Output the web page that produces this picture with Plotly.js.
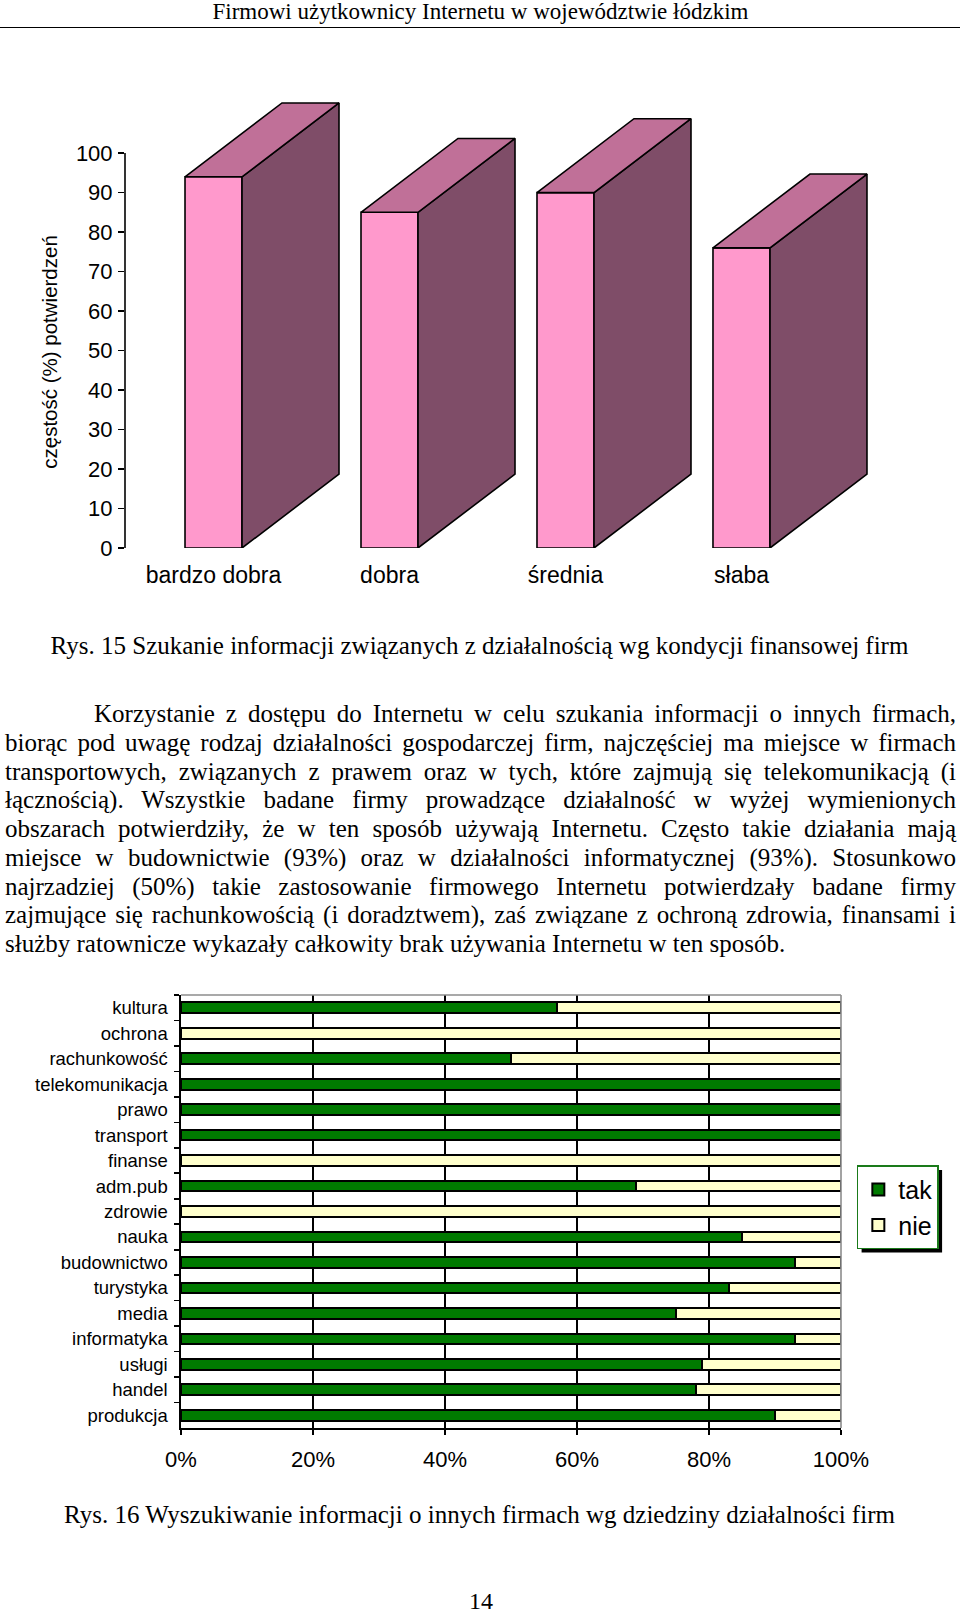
<!DOCTYPE html>
<html>
<head>
<meta charset="utf-8">
<script src="https://cdn.plot.ly/plotly-3.0.1.min.js"></script>
<style>
  html, body { margin: 0; padding: 0; background: #fff; }
  body { width: 960px; height: 1611px; position: relative; overflow: hidden; }
  .serif { font-family: "Liberation Serif", "Times New Roman", serif; color: #000; position: absolute; }
  #header { left: 0; width: 961px; top: 0; font-size: 23px; line-height: 24px; text-align: center; }
  #rule { position: absolute; left: 0; width: 960px; top: 27px; border-top: 1.5px solid #000; }
  #cap1 { left: 0; width: 959px; top: 632px; font-size: 25px; line-height: 28px; text-align: center; }
  #para { left: 5px; width: 951px; top: 700px; font-size: 25px; line-height: 28.75px; }
  #para div { text-align: justify; text-align-last: justify; }
  #para div.first { text-indent: 89px; }
  #para div.last { text-align: left; text-align-last: left; }
  #cap2 { left: 0; width: 959px; top: 1501px; font-size: 25px; line-height: 28px; text-align: center; }
  #pageno { left: 0; width: 962px; top: 1587px; font-size: 24px; line-height: 28px; text-align: center; }
  #chart1 { position: absolute; left: 0; top: 40px; width: 960px; height: 560px; }
  #chart2 { position: absolute; left: 0; top: 960px; width: 960px; height: 520px; }
</style>
</head>
<body>
<div id="header" class="serif">Firmowi użytkownicy Internetu w województwie łódzkim</div>
<div id="rule"></div>
<div id="chart1"></div>
<div id="cap1" class="serif">Rys. 15 Szukanie informacji związanych z działalnością wg kondycji finansowej firm</div>
<div id="para" class="serif">
  <div class="first">Korzystanie z dostępu do Internetu w celu szukania informacji o innych firmach,</div>
  <div>biorąc pod uwagę rodzaj działalności gospodarczej firm, najczęściej ma miejsce w firmach</div>
  <div>transportowych, związanych z prawem oraz w tych, które zajmują się telekomunikacją (i</div>
  <div>łącznością). Wszystkie badane firmy prowadzące działalność w wyżej wymienionych</div>
  <div>obszarach potwierdziły, że w ten sposób używają Internetu. Często takie działania mają</div>
  <div>miejsce w budownictwie (93%) oraz w działalności informatycznej (93%). Stosunkowo</div>
  <div>najrzadziej (50%) takie zastosowanie firmowego Internetu potwierdzały badane firmy</div>
  <div>zajmujące się rachunkowością (i doradztwem), zaś związane z ochroną zdrowia, finansami i</div>
  <div class="last">służby ratownicze wykazały całkowity brak używania Internetu w ten sposób.</div>
</div>
<div id="chart2"></div>
<div id="cap2" class="serif">Rys. 16 Wyszukiwanie informacji o innych firmach wg dziedziny działalności firm</div>
<div id="pageno" class="serif">14</div>

<script>
// Rys. 15 - kondycja finansowa firm
const condCats = ['bardzo dobra', 'dobra', 'średnia', 'słaba'];
const condVals = [94, 85, 90, 76];

// Rys. 16 - dziedzina działalności (od góry)
const sectors = ['kultura', 'ochrona', 'rachunkowość', 'telekomunikacja', 'prawo', 'transport',
  'finanse', 'adm.pub', 'zdrowie', 'nauka', 'budownictwo', 'turystyka', 'media', 'informatyka',
  'usługi', 'handel', 'produkcja'];
const takVals = [57, 0, 50, 100, 100, 100, 0, 69, 0, 85, 93, 83, 75, 93, 79, 78, 90];
const nieVals = [43, 100, 50, 0, 0, 0, 100, 31, 100, 15, 7, 17, 25, 7, 21, 22, 10];
const pctTicks = [0, 20, 40, 60, 80, 100];

const SANS = '"Liberation Sans", Arial, sans-serif';

// ---- chart 1: pseudo-3D columns ----
const FRONT_W = 0.324;   // front face width (x units)
const DEPTH_X = 0.551;   // oblique depth in x units
const DEPTH_Y = 18.7;    // oblique depth in y units
const half = FRONT_W / 2;
const xIdx = condCats.map((_, i) => i);

const sideX = [], sideY = [], topX = [], topY = [];
condVals.forEach((v, i) => {
  const r = i + half, l = i - half;
  sideX.push(r, r + DEPTH_X, r + DEPTH_X, r, r, null);
  sideY.push(0, DEPTH_Y, v + DEPTH_Y, v, 0, null);
  topX.push(l, l + DEPTH_X, r + DEPTH_X, r, l, null);
  topY.push(v, v + DEPTH_Y, v + DEPTH_Y, v, v, null);
});

const edge = { color: '#000', width: 1.6 };

Plotly.newPlot('chart1', [
  {
    type: 'bar', x: xIdx, y: condVals, width: FRONT_W,
    marker: { color: '#FF99CC', line: edge },
    hoverinfo: 'skip',
  },
  {
    type: 'scatter', mode: 'lines', x: sideX, y: sideY,
    fill: 'toself', fillcolor: '#7F4D68', line: edge,
    connectgaps: false, hoverinfo: 'skip',
  },
  {
    type: 'scatter', mode: 'lines', x: topX, y: topY,
    fill: 'toself', fillcolor: '#C07098', line: edge,
    connectgaps: false, hoverinfo: 'skip',
  },
], {
  width: 960, height: 560,
  paper_bgcolor: '#fff', plot_bgcolor: 'rgba(0,0,0,0)',
  margin: { l: 125, r: 80, t: 42, b: 52 },
  showlegend: false,
  font: { family: SANS, color: '#000' },
  xaxis: {
    range: [-0.503, 3.787], tickvals: xIdx, ticktext: condCats,
    showgrid: false, zeroline: false, showline: false, ticks: '',
    tickfont: { size: 23, family: SANS }, ticklabelstandoff: 11,
  },
  yaxis: {
    range: [0, 118], tickvals: [0, 10, 20, 30, 40, 50, 60, 70, 80, 90, 100],
    showgrid: false, zeroline: false, showline: false,
    ticks: 'outside', ticklen: 6, tickwidth: 1.5, tickcolor: '#000',
    tickfont: { size: 22, family: SANS }, ticklabelstandoff: 1,
  },
  shapes: [{
    type: 'line', xref: 'paper', yref: 'y', x0: 0, x1: 0, y0: 0, y1: 100,
    line: { color: '#000', width: 1.6 },
  }],
  annotations: [{
    text: 'częstość (%) potwierdzeń', xref: 'paper', yref: 'paper',
    x: -0.101, y: 0.4206, xanchor: 'center', yanchor: 'middle',
    textangle: -90, showarrow: false, font: { size: 20.5, family: SANS },
  }],
}, { displayModeBar: false, staticPlot: true });

// ---- chart 2: 100% stacked horizontal bars ----
const barEdge = { color: '#000', width: 2 };

Plotly.newPlot('chart2', [
  {
    type: 'bar', orientation: 'h', name: 'tak', y: sectors, x: takVals,
    marker: { color: '#007A00', line: barEdge }, legendgroup: 'a',
  },
  {
    type: 'bar', orientation: 'h', name: 'nie', y: sectors, x: nieVals,
    marker: { color: '#FFFFCC', line: barEdge }, legendgroup: 'b',
  },
], {
  width: 960, height: 520,
  paper_bgcolor: '#fff', plot_bgcolor: '#fff',
  margin: { l: 181, r: 119, t: 35, b: 52 },
  barmode: 'stack', bargap: 0.58,
  font: { family: SANS, color: '#000' },
  xaxis: {
    range: [0, 100], tickvals: pctTicks, ticktext: pctTicks.map(v => v + '%'),
    showgrid: true, gridcolor: '#000', gridwidth: 1.4, zeroline: false,
    showline: true, linecolor: '#000', linewidth: 1.6,
    ticks: 'outside', ticklen: 5, tickwidth: 1.6, tickcolor: '#000',
    tickfont: { size: 22, family: SANS }, ticklabelstandoff: 6,
  },
  yaxis: {
    autorange: 'reversed', type: 'category',
    showgrid: false, zeroline: false,
    showline: true, linecolor: '#000', linewidth: 1.6,
    ticks: 'outside', tickson: 'boundaries', ticklen: 5, tickwidth: 1.6, tickcolor: '#000',
    tickfont: { size: 18.5, family: SANS }, ticklabelstandoff: 8,
  },
  shapes: [
    { type: 'line', xref: 'paper', yref: 'paper', x0: 0, x1: 1, y0: 1, y1: 1, layer: 'above', line: { color: '#8c8c8c', width: 1.6 } },
    { type: 'line', xref: 'paper', yref: 'paper', x0: 1, x1: 1, y0: 0, y1: 1, layer: 'above', line: { color: '#8c8c8c', width: 1.6 } },
  ],
  showlegend: true,
  legend: {
    x: 1.024, y: 0.607, xanchor: 'left', yanchor: 'top',
    bordercolor: '#1a7a1a', borderwidth: 1.5, bgcolor: '#fff',
    font: { size: 25, family: SANS }, itemwidth: 30, tracegroupgap: 3,
    traceorder: 'normal',
  },
}, { displayModeBar: false, staticPlot: true }).then(gd => {
  // drop shadow under the legend box
  const bg = gd.querySelector('.legend .bg');
  if (!bg) return;
  const box = bg.getBoundingClientRect();
  const host = gd.getBoundingClientRect();
  const fl = gd._fullLayout;
  const px2x = p => (p - fl._size.l) / fl._size.w;
  const px2y = p => 1 - (p - fl._size.t) / fl._size.h;
  const l = box.left - host.left + 4, r = box.right - host.left + 4;
  const t = box.top - host.top + 4, b = box.bottom - host.top + 4;
  const shapes = gd.layout.shapes.concat([{
    type: 'rect', xref: 'paper', yref: 'paper', layer: 'above',
    x0: px2x(l), x1: px2x(r), y0: px2y(b), y1: px2y(t),
    fillcolor: '#000', line: { width: 0 },
  }]);
  return Plotly.relayout(gd, { shapes });
});
</script>
</body>
</html>
